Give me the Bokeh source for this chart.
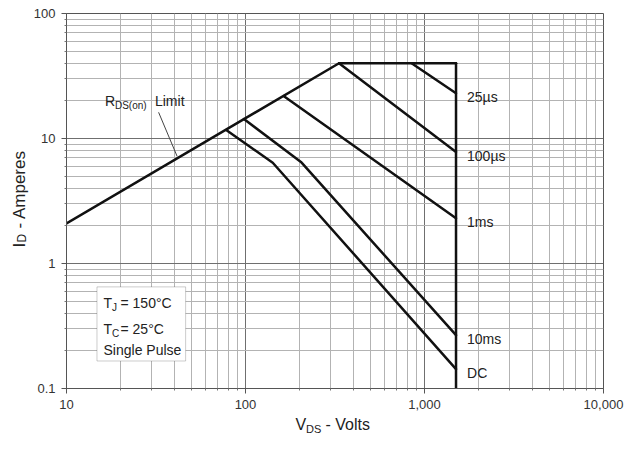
from bokeh.plotting import figure
from bokeh.models import FixedTicker, NumeralTickFormatter, Label, BoxAnnotation, Range1d
from bokeh.layouts import column, row
from bokeh.embed import file_html
from bokeh.resources import INLINE
import math

# ---- data (V_DS in volts, I_D in amperes) ----
rds_v = [10, 333]
rds_i = [2.09, 40]
top_v = [333, 1500]
top_i = [40, 40]
vmax_v = [1500, 1500]
vmax_i = [40, 0.1]
us25_v = [847, 1500]
us25_i = [40, 23]
us100_v = [333, 1500]
us100_i = [40, 7.8]
ms1_v = [164, 1500]
ms1_i = [21.8, 2.3]
ms10_v = [98, 204, 1500]
ms10_i = [14.3, 6.5, 0.267]
dc_v = [78, 142, 1500]
dc_i = [11.7, 6.4, 0.143]
curve_labels = ["25µs", "100µs", "1ms", "10ms", "DC"]

x_ticks = [10, 100, 1000, 10000]
y_ticks = [0.1, 1, 10, 100]
x_minor = [m * d for d in (10, 100, 1000) for m in range(2, 10)]
y_minor = [round(m * d, 3) for d in (0.1, 1, 10) for m in range(2, 10)]

FONT = "Liberation Sans"
INK = "#111111"
TXT = "#222222"

LEFT_W = 30      # strip holding the y-axis title
BOTTOM_H = 36    # strip holding the x-axis title
MAIN_W = 637 - LEFT_W
MAIN_H = 452 - BOTTOM_H

p = figure(width=MAIN_W, height=MAIN_H, x_axis_type="log", y_axis_type="log",
           x_range=Range1d(10, 10000), y_range=Range1d(0.1, 100),
           output_backend="svg", toolbar_location=None,
           min_border_left=34, min_border_right=34, min_border_top=13, min_border_bottom=28)
p.background_fill_color = "white"
p.border_fill_color = "white"
p.outline_line_color = "#555555"

xt = FixedTicker(ticks=x_ticks, minor_ticks=x_minor)
yt = FixedTicker(ticks=y_ticks, minor_ticks=y_minor)
p.xaxis.ticker = xt
p.yaxis.ticker = yt
p.xgrid.ticker = xt
p.ygrid.ticker = yt
p.xaxis.formatter = NumeralTickFormatter(format="0,0")
p.yaxis.formatter = NumeralTickFormatter(format="0.[0]")

for ax in (p.xaxis[0], p.yaxis[0]):
    ax.axis_line_color = "#555555"
    ax.major_tick_line_color = "#555555"
    ax.major_tick_out = 5
    ax.major_tick_in = 0
    ax.minor_tick_line_color = "#777777"
    ax.minor_tick_out = 2
    ax.minor_tick_in = 0
    ax.major_label_text_font = FONT
    ax.major_label_text_font_size = "13px"
    ax.major_label_text_color = "#333333"
    ax.major_label_standoff = 6

for g in (p.xgrid[0], p.ygrid[0]):
    g.grid_line_color = "#6f6f6f"
    g.grid_line_width = 1
    g.minor_grid_line_color = "#b3b3b3"
    g.minor_grid_line_width = 1

# ---- curves ----
for xs, ys in [(rds_v, rds_i), (top_v, top_i), (vmax_v, vmax_i), (us25_v, us25_i),
               (us100_v, us100_i), (ms1_v, ms1_i), (ms10_v, ms10_i), (dc_v, dc_i)]:
    p.line(xs, ys, line_color=INK, line_width=2.5, line_join="round", line_cap="round")

def lab(fig, x, y, text, size=14, units="data", **kw):
    fig.add_layout(Label(x=x, y=y, x_units=units, y_units=units, text=text,
                         text_font=FONT, text_font_size=f"{size}px", text_color=TXT, **kw))

# curve end labels
ends = [us25_i[-1], us100_i[-1], ms1_i[-1], ms10_i[-1], dc_i[-1]]
for txt, yv in zip(curve_labels, ends):
    lab(p, vmax_v[0], yv, txt, 14, text_align="left", text_baseline="middle",
        x_offset=11, y_offset=-4)

# R_DS(on) Limit label + leader
p.line([32.7, 41.5], [16.2, 7.2], line_color="#444444", line_width=1)
lab(p, 16.4, 19.9, "R", 14, text_baseline="middle")
lab(p, 16.4, 19.9, "DS(on)", 10, text_baseline="middle", x_offset=10, y_offset=-4)
lab(p, 16.4, 19.9, "Limit", 14, text_baseline="middle", x_offset=50)

# condition box
p.add_layout(BoxAnnotation(left=14.8, right=46.3, bottom=0.166, top=0.65,
                           fill_color="white", fill_alpha=1.0,
                           line_color="#555555", line_width=1))
lab(p, 16.1, 0.481, "T", 14, text_baseline="middle")
lab(p, 16.1, 0.481, "J", 10, text_baseline="middle", x_offset=8.5, y_offset=-4)
lab(p, 16.1, 0.481, "= 150°C", 14, text_baseline="middle", x_offset=17)
lab(p, 16.1, 0.298, "T", 14, text_baseline="middle")
lab(p, 16.1, 0.298, "C", 10, text_baseline="middle", x_offset=8.5, y_offset=-4)
lab(p, 16.1, 0.298, "= 25°C", 14, text_baseline="middle", x_offset=17)
lab(p, 16.1, 0.202, "Single Pulse", 14, text_baseline="middle")

# ---- y-axis title strip ----
yf = figure(width=LEFT_W, height=MAIN_H, x_range=Range1d(0, LEFT_W), y_range=Range1d(0, MAIN_H),
            output_backend="svg", toolbar_location=None,
            x_axis_location=None, y_axis_location=None, min_border=0)
yf.grid.visible = False
yf.outline_line_color = None
yf.background_fill_color = "white"
yf.border_fill_color = "white"
yb = MAIN_H - 255 - 20   # start of the title (bottom end), in strip coordinates
lab(yf, 19, yb, "I", 17, units="screen", text_baseline="middle", angle=math.pi / 2)
lab(yf, 21.5, yb + 5, "D", 12, units="screen", text_baseline="middle", angle=math.pi / 2)
lab(yf, 19, yb + 19, "- Amperes", 17, units="screen", text_baseline="middle", angle=math.pi / 2)

# ---- x-axis title strip ----
xf = figure(width=637, height=BOTTOM_H, x_range=Range1d(0, 637), y_range=Range1d(0, BOTTOM_H),
            output_backend="svg", toolbar_location=None,
            x_axis_location=None, y_axis_location=None, min_border=0)
xf.grid.visible = False
xf.outline_line_color = None
xf.background_fill_color = "white"
xf.border_fill_color = "white"
xy = 452 - 424      # vertical centre of the title, in strip coordinates
lab(xf, 295, xy, "V", 16, units="screen", text_baseline="middle")
lab(xf, 305.5, xy - 4, "DS", 11, units="screen", text_baseline="middle")
lab(xf, 325, xy, "- Volts", 16, units="screen", text_baseline="middle")

layout = column(row(yf, p, spacing=0), xf, spacing=0)
open("out.html", "w").write(file_html(layout, INLINE))
